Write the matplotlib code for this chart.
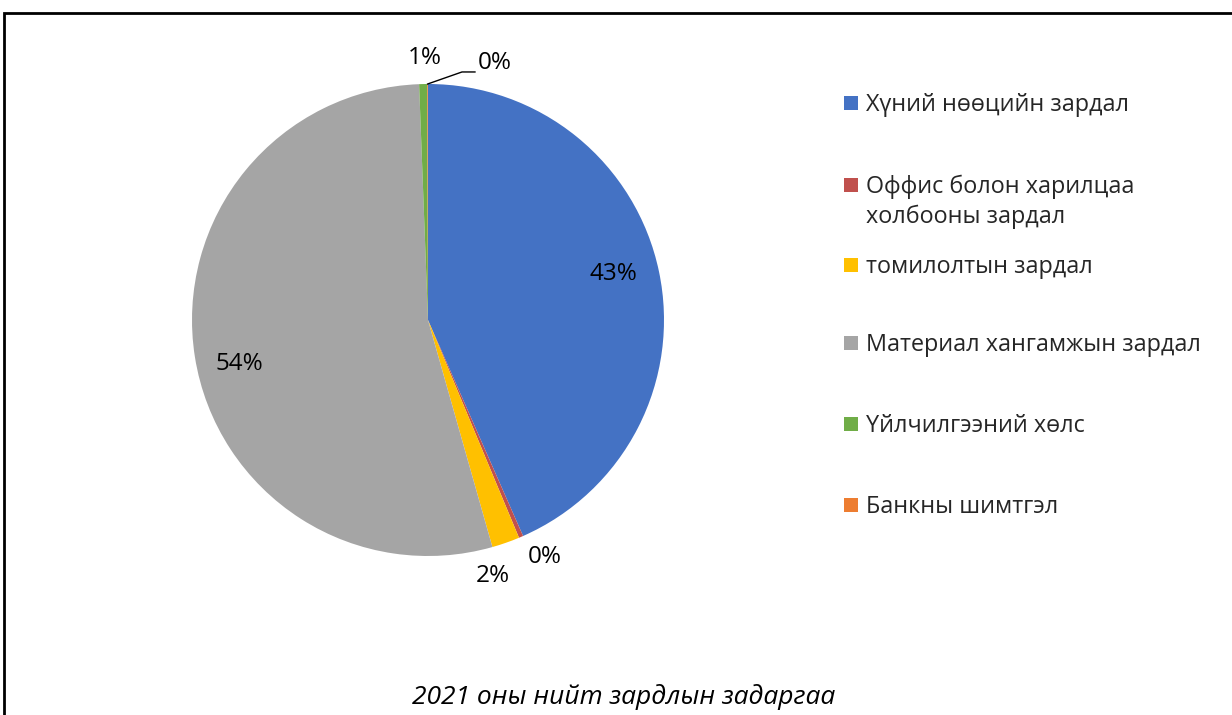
import numpy as np
import matplotlib.pyplot as plt
from matplotlib.patches import Rectangle

plt.rcParams['font.family'] = ['Open Sans', 'DejaVu Sans']

# data
categories = ["Хүний нөөцийн зардал",
              "Оффис болон харилцаа\nхолбооны зардал",
              "томилолтын зардал",
              "Материал хангамжын зардал",
              "Үйлчилгээний хөлс",
              "Банкны шимтгэл"]
shares = [43.4, 0.3, 1.9, 53.8, 0.55, 0.05]
colors = ["#4472C4", "#C0504D", "#FFC000", "#A5A5A5", "#70AD47", "#ED7D31"]
title = "2021 оны нийт зардлын задаргаа"

W, H = 1232, 715
fig = plt.figure(figsize=(W / 100, H / 100), dpi=100)

# pie axes: centre (428, 320) px, radius 236 px
cx, cy, r = 428, 320, 236
ax = fig.add_axes([(cx - r) / W, (H - cy - r) / H, 2 * r / W, 2 * r / H])
wedges, _ = ax.pie(shares, colors=colors, startangle=90, counterclock=False,
                   radius=1, wedgeprops=dict(linewidth=0))
ax.set_xlim(-1, 1)
ax.set_ylim(-1, 1)
ax.set_aspect("equal")
ax.axis("off")

# data labels: distance from centre (in radii) and angle tweak per slice
label_dist = [0.81, 1.12, 1.12, 0.82, 1.11, None]
angle_adj = [2, 3, -5, 4, -0.5, 0]
for w, s, d, da in zip(wedges, shares, label_dist, angle_adj):
    txt = "%1.0f%%" % s
    mid = np.deg2rad((w.theta1 + w.theta2) / 2 + da)
    if d is None:
        # leader line for the tiny slice at the top
        ex, ey = np.cos(mid), np.sin(mid)
        ax.plot([ex, 0.144, 0.199], [ey, 1.051, 1.051], color="black",
                lw=1, clip_on=False)
        ax.text(0.212, 1.09, txt, fontsize=17.5, ha="left", va="center")
    else:
        ax.text(d * np.cos(mid), d * np.sin(mid), txt, fontsize=17.5,
                ha="center", va="center")

# legend drawn by hand (y = centre of first text line, px from top)
leg_y = [103, 185, 265, 343, 424, 505]
line_h = 30
for lab, col, y in zip(categories, colors, leg_y):
    fig.add_artist(Rectangle((844 / W, 1 - (y + 7) / H), 14 / W, 14 / H,
                             transform=fig.transFigure, facecolor=col,
                             edgecolor="none"))
    base = y + 8 + lab.count("\n") * line_h  # baseline of last line
    fig.text(866 / W, 1 - base / H, lab, fontsize=16.8, va="baseline",
             ha="left", linespacing=1.3, color="#262626")

fig.text(624 / W, 1 - 697 / H, title, fontsize=19, style="italic",
         ha="center", va="center", color="black")

# outer frame (runs off the right and bottom edges)
fig.add_artist(Rectangle((4 / W, -0.1), 1.2, 1.1 - 13 / H,
                         transform=fig.transFigure, fill=False,
                         edgecolor="black", linewidth=2))

plt.savefig("out.png", dpi=100)
